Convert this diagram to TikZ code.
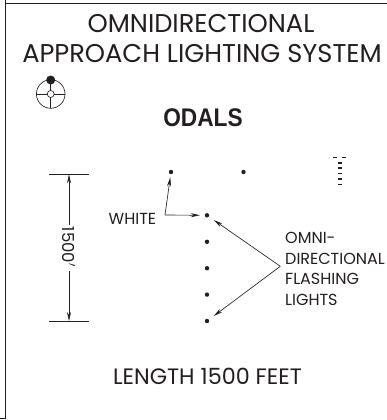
\documentclass[tikz,border=0pt]{standalone}
\usepackage{fontspec}
\setmainfont{Poppins}
\newfontfamily\boldsans[FakeStretch=0.89]{Liberation Sans}
\usetikzlibrary{arrows.meta}
\definecolor{ink}{HTML}{231F20}
\tikzset{
  ink line/.style={draw=ink,line width=0.85pt},
  thin line/.style={draw=ink,line width=0.65pt},
  pointer/.style={thin line,-{Stealth[length=9pt,width=4pt]}},
  lamp/.style={circle,fill=ink,inner sep=0pt,minimum size=4.4pt},
  title/.style={text=ink,font=\fontsize{25.7}{28}\selectfont,inner sep=0pt},
  small/.style={text=ink,font=\fontsize{16}{20.7}\selectfont,inner sep=0pt,align=left}
}
\begin{document}
\begin{tikzpicture}[x=1pt,y=-1pt]
\useasboundingbox (0,0) rectangle (387,420);
\fill[white] (0,0) rectangle (387,420);
\draw[ink line] (5.5,3.3) -- (387,3.3);
\draw[ink line] (5.5,0) -- (5.5,418.8) -- (0,418.8);
\node[title,anchor=base] (t1) at (201,32.5) {OMNIDIRECTIONAL};
\node[title,anchor=base] (t2) at (202,62.3) {APPROACH LIGHTING SYSTEM};
\node[text=ink,font=\fontsize{25.5}{28}\boldsans\bfseries\selectfont,inner sep=0pt,anchor=base] (odals) at (203,126) {ODALS};
% symbol
\coordinate (sc) at (50.7,94);
\draw[thin line] (sc) circle (14.3);
\draw[thin line] (36.4,94) -- (65,94) (50.7,80) -- (50.7,108.3);
\node[circle,draw=ink,fill=white,line width=0.65pt,inner sep=0pt,minimum size=7pt] (hub) at (sc) {};
\node[circle,fill=ink,inner sep=0pt,minimum size=9pt] (top) at (50.7,80) {};
% dimension
\coordinate (dt) at (69,174.3);
\coordinate (db) at (69,321);
\draw[ink line] (49.3,174.3) -- (89,174.3);
\draw[ink line] (49.3,321) -- (89,321);
\node[small,rotate=-90,font=\fontsize{16.5}{18}\selectfont] (dim) at (68.5,247) {1500$'$};
\draw[pointer] (69,225) -- (dt);
\draw[pointer] (69,271) -- (db);
% lamps
\node[lamp] (a) at (171,172) {};
\node[lamp] (b) at (243.5,172) {};
\node[lamp] (c1) at (207,215.3) {};
\node[lamp] (c2) at (207,241.8) {};
\node[lamp] (c3) at (207,268.2) {};
\node[lamp] (c4) at (207,294.6) {};
\node[lamp] (c5) at (207,321) {};
% threshold mark
\draw[draw=ink,line width=4.5pt,dash pattern=on 1.5pt off 3.9pt] (340,162) -- (340,186);
\draw[draw=ink,line width=1.5pt] (333.3,157.3) -- (337,157.3) (342,157.3) -- (346,157.3);
% labels
\node[small,anchor=base west] (w) at (108.5,224) {WHITE};
\coordinate (ww) at (165,215);
\draw[pointer,shorten >=4.8pt] (ww) -- (c1);
\draw[pointer,shorten >=3pt] (ww) -- (a);
\node[small,anchor=north west] (o) at (285,232) {OMNI-\\DIRECTIONAL\\FLASHING\\LIGHTS};
\coordinate (v) at (280.3,266.3);
\draw[pointer,shorten >=6pt] (v) -- (c1);
\draw[pointer,shorten >=6pt] (v) -- (c5);
\node[text=ink,font=\fontsize{22.3}{25}\selectfont,inner sep=0pt,anchor=base] (len) at (207.5,384.3) {LENGTH 1500 FEET};
\end{tikzpicture}
\end{document}
